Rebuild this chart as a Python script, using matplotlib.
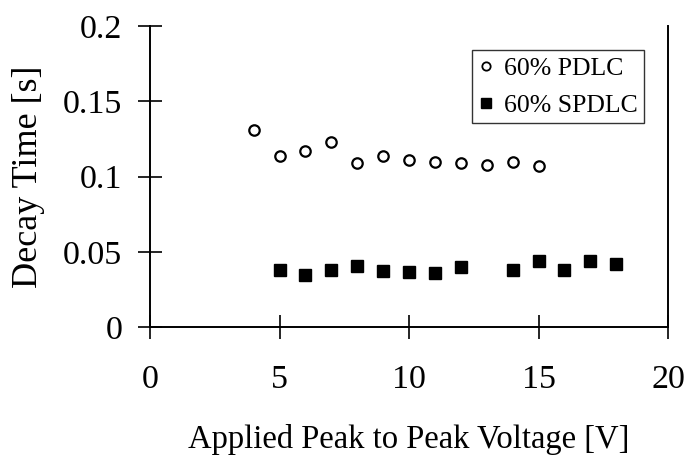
import numpy as np
import matplotlib
matplotlib.use("Agg")
import matplotlib.pyplot as plt

plt.rcParams['font.family'] = ['Liberation Serif', 'DejaVu Serif']

# Data
pdlc_v = [4, 5, 6, 7, 8, 9, 10, 11, 12, 13, 14, 15]
pdlc_t = [0.131, 0.114, 0.117, 0.123, 0.109, 0.114, 0.111, 0.110, 0.109, 0.108, 0.110, 0.107]

spdlc_v = [5, 6, 7, 8, 9, 10, 11, 12, 14, 15, 16, 17, 18]
spdlc_t = [0.038, 0.035, 0.038, 0.041, 0.0375, 0.0365, 0.036, 0.040, 0.038, 0.044, 0.038, 0.044, 0.042]

x_ticks = [0, 5, 10, 15, 20]
y_ticks = [0, 0.05, 0.1, 0.15, 0.2]
y_labels = ['0', '0.05', '0.1', '0.15', '0.2']

fig = plt.figure(figsize=(6.86, 4.57), dpi=100)
ax = fig.add_axes([0.2187, 0.2834, 0.7551, 0.6597])

ax.plot(pdlc_v, pdlc_t, linestyle='none', marker='o', ms=7.5,
        mfc='white', mec='black', mew=1.6, label='60% PDLC')
ax.plot(spdlc_v, spdlc_t, linestyle='none', marker='s', ms=9,
        mfc='black', mec='black', label='60% SPDLC')

ax.set_xlim(0, 20)
ax.set_ylim(0, 0.2)
ax.set_xticks(x_ticks)
ax.set_yticks(y_ticks)
ax.set_yticklabels(y_labels)
ax.tick_params(direction='inout', length=17, width=1.2, labelsize=24.5)
ax.tick_params(axis='x', pad=18)
ax.tick_params(axis='y', pad=11.5)

ax.spines['top'].set_visible(False)
for s in ['left', 'bottom', 'right']:
    ax.spines[s].set_linewidth(1.4)

ax.set_xlabel('Applied Peak to Peak Voltage [V]', fontsize=23.5, labelpad=21)
ax.set_ylabel('Decay Time [s]', fontsize=26, labelpad=13)

leg = ax.legend(loc='upper right', bbox_to_anchor=(0.954, 0.920), fontsize=18.5,
                frameon=True, fancybox=False, handletextpad=0.4, handlelength=0.6,
                borderpad=0.25, labelspacing=0.56, borderaxespad=0)
leg.get_frame().set_edgecolor('black')
leg.get_frame().set_linewidth(1.0)
leg.legend_handles[0].set_markersize(6)
leg.legend_handles[0].set_markeredgewidth(1.3)
leg.legend_handles[1].set_markersize(7.5)

fig.savefig('out.png', dpi=100)
